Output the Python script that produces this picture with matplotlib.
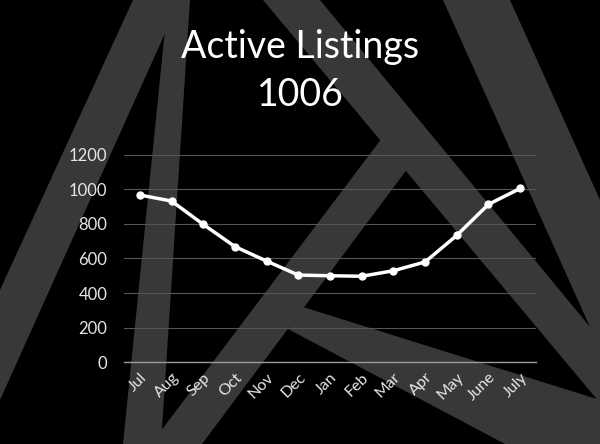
import matplotlib
matplotlib.use("Agg")
import matplotlib.pyplot as plt
from matplotlib.patches import Polygon

months = ["Jul", "Aug", "Sep", "Oct", "Nov", "Dec", "Jan", "Feb", "Mar",
          "Apr", "May", "June", "July"]
listings = [968, 933, 798, 669, 585, 504, 500, 497, 529, 580, 734, 914, 1006]
yticks = [0, 200, 400, 600, 800, 1000, 1200]

W, H = 600, 444
fig = plt.figure(figsize=(6, 4.44), dpi=100, facecolor="black")

# background logo bands, given in pixel coords (y down)
bands = [
    [(133, 0), (180, 0), (0, 400), (0, 290)],
    [(168, 0), (190, 0), (161, 444), (123, 444)],
    [(151, 444), (382, 138), (412, 160), (405, 172), (202, 444)],
    [(263, 0), (320, 0), (600, 339), (600, 403)],
    [(443, 0), (510, 0), (600, 200), (600, 345), (590, 327)],
    [(303, 307), (600, 400), (600, 444), (505, 444), (288, 329)],
]
for b in bands:
    pts = [(x / W, 1 - y / H) for x, y in b]
    fig.patches.append(Polygon(pts, closed=True, transform=fig.transFigure,
                               facecolor="#3a3836", edgecolor="none", zorder=-1))

ax = fig.add_axes([124 / W, 82 / H, 412 / W, 207 / H])
ax.set_zorder(1)
ax.set_facecolor("none")
x = list(range(len(months)))
ax.plot(x, listings, color="white", lw=2.5, marker="o", markersize=5, zorder=3)

ax.set_xlim(-0.5, len(months) - 0.5)
ax.set_ylim(0, 1200)
ax.set_yticks(yticks)
ax.set_xticks(x)
ax.set_xticklabels(months, rotation=45, ha="right", va="top",
                   rotation_mode="anchor")
ax.grid(axis="y", color="#555555", lw=0.8)
ax.set_axisbelow(True)
for s in ["top", "right", "left"]:
    ax.spines[s].set_visible(False)
ax.spines["bottom"].set_color("#9a9a9a")
ax.spines["bottom"].set_linewidth(1)
ax.tick_params(axis="y", length=0, pad=12, labelsize=12, labelcolor="#e6e6e6")
ax.tick_params(axis="x", length=0, pad=6, labelsize=11.5, labelcolor="#e6e6e6")
for lab in ax.get_xticklabels() + ax.get_yticklabels():
    lab.set_family("Lato")

fig.text(0.5, 1 - 47 / H, "Active Listings", color="white", fontsize=27,
         family="Lato", ha="center", va="center")
fig.text(0.5, 1 - 95 / H, "1006", color="white", fontsize=27,
         family="Lato", ha="center", va="center")

fig.savefig("out.png", dpi=100, facecolor="black")
